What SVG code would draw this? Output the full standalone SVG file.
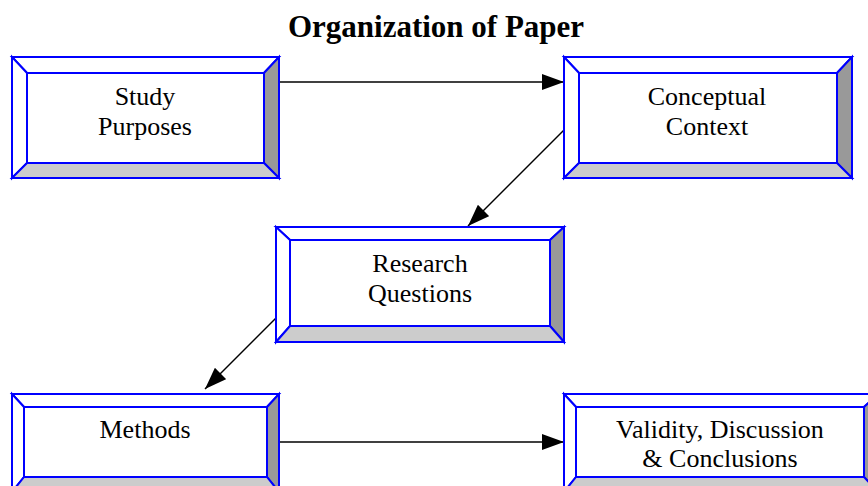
<svg xmlns="http://www.w3.org/2000/svg" width="868" height="486" viewBox="0 0 868 486">
<style>
.b{stroke:#0000ff;stroke-width:2;stroke-linejoin:miter}
.w{fill:#ffffff}.dk{fill:#999999}.lt{fill:#cccccc}
.t{font-family:"Liberation Serif","Times New Roman",serif;font-size:26px;fill:#000;text-anchor:middle}
.ttl{font-family:"Liberation Serif","Times New Roman",serif;font-size:31px;font-weight:bold;fill:#000;text-anchor:middle}
.c{stroke:#000;stroke-width:1.5;fill:none}
</style>
<defs>
<marker id="ah" markerWidth="22" markerHeight="16" viewBox="0 0 22 16" refX="22" refY="8" orient="auto" markerUnits="userSpaceOnUse">
<path d="M0,0 L22,8 L0,16 Z" fill="#000"/>
</marker>
</defs>
<rect width="868" height="486" fill="#fff"/>
<text class="ttl" x="436" y="37">Organization of Paper</text>
<g id="connectors">
<line class="c" x1="279" y1="82" x2="564" y2="82" marker-end="url(#ah)"/>
<line class="c" x1="564" y1="130" x2="468" y2="226" marker-end="url(#ah)"/>
<line class="c" x1="276" y1="318" x2="205" y2="389" marker-end="url(#ah)"/>
<line class="c" x1="279" y1="442" x2="564" y2="442" marker-end="url(#ah)"/>
</g>
<g id="study">
<polygon class="b w" points="12,57 279,57 264,73 27,73"/>
<polygon class="b w" points="12,57 27,73 27,163 12,178"/>
<polygon class="b dk" points="279,57 279,178 264,163 264,73"/>
<polygon class="b lt" points="12,178 27,163 264,163 279,178"/>
<rect class="b w" x="27" y="73" width="237" height="90"/>
<text class="t" x="145" y="105">Study</text>
<text class="t" x="145" y="135">Purposes</text>
</g>
<g id="conceptual">
<polygon class="b w" points="564,57 852,57 837,73 579,73"/>
<polygon class="b w" points="564,57 579,73 579,163 564,178"/>
<polygon class="b dk" points="852,57 852,178 837,163 837,73"/>
<polygon class="b lt" points="564,178 579,163 837,163 852,178"/>
<rect class="b w" x="579" y="73" width="258" height="90"/>
<text class="t" x="707" y="105">Conceptual</text>
<text class="t" x="707" y="135">Context</text>
</g>
<g id="research">
<polygon class="b w" points="276,227 564,227 550,240 290,240"/>
<polygon class="b w" points="276,227 290,240 290,326 276,342"/>
<polygon class="b dk" points="564,227 564,342 550,326 550,240"/>
<polygon class="b lt" points="276,342 290,326 550,326 564,342"/>
<rect class="b w" x="290" y="240" width="260" height="86"/>
<text class="t" x="420" y="272">Research</text>
<text class="t" x="420" y="302">Questions</text>
</g>
<g id="methods">
<polygon class="b w" points="12,394 279,394 267,407 24,407"/>
<polygon class="b w" points="12,394 24,407 24,477 12,492"/>
<polygon class="b dk" points="279,394 279,492 267,477 267,407"/>
<polygon class="b lt" points="12,492 24,477 267,477 279,492"/>
<rect class="b w" x="24" y="407" width="243" height="70"/>
<text class="t" x="145" y="438">Methods</text>
</g>
<g id="validity">
<polygon class="b w" points="564,394 878,394 864,407 576,407"/>
<polygon class="b w" points="564,394 576,407 576,477 564,492"/>
<polygon class="b dk" points="878,394 878,492 864,477 864,407"/>
<polygon class="b lt" points="564,492 576,477 864,477 878,492"/>
<rect class="b w" x="576" y="407" width="288" height="70"/>
<text class="t" x="720" y="438">Validity, Discussion</text>
<text class="t" x="720" y="467">&amp; Conclusions</text>
</g>
</svg>
